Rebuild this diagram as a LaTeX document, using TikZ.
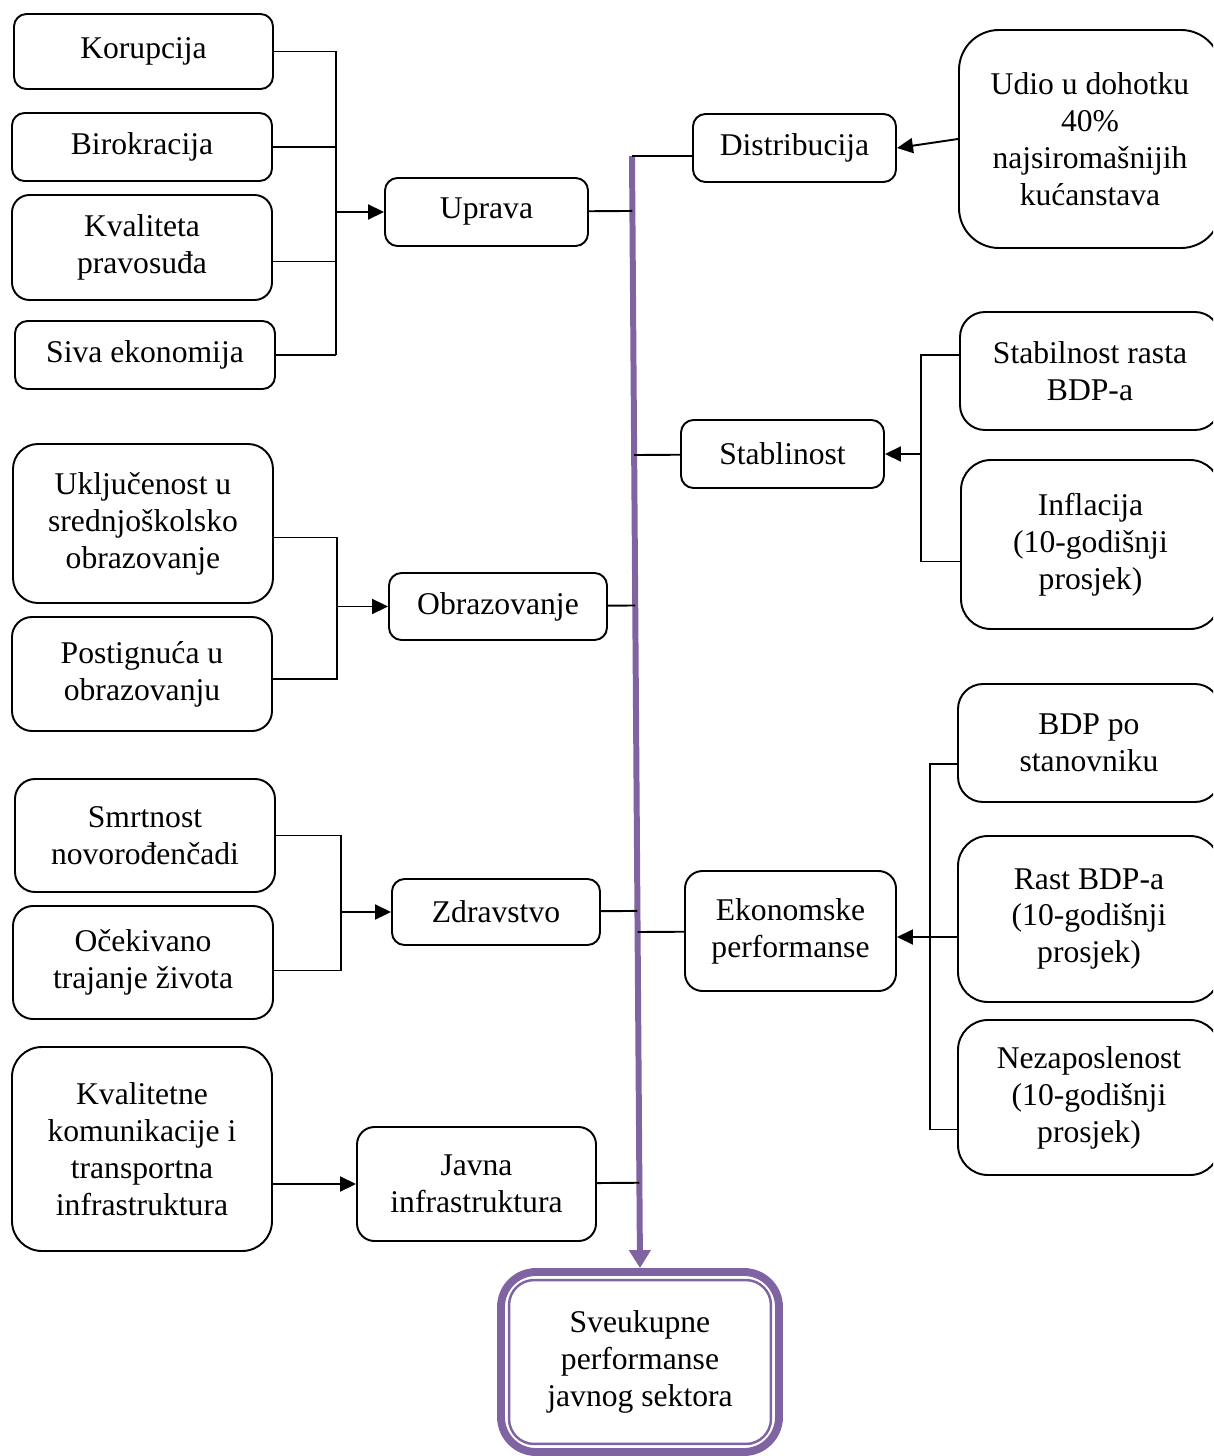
\documentclass[tikz,border=0pt]{standalone}
\usepackage{fontspec}
\setmainfont{Liberation Serif}
\usetikzlibrary{arrows.meta,calc}
\definecolor{ljub}{HTML}{8064A2}

\tikzset{
  box/.style={draw, line width=1.1pt, rounded corners=0.25cm, align=center, inner sep=2pt,
    font=\fontsize{18}{21}\selectfont},
  wh/.style 2 args={minimum width=#1*0.02cm, minimum height=#2*0.02cm},
  veza/.style={line width=1.1pt},
  strel/.style={line width=1.1pt, -{Triangle[length=0.32cm, width=0.3cm]}},
  osovina/.style={ljub, line width=3.4pt, -{Triangle[length=0.36cm, width=0.42cm]}}
}

\begin{document}
\begin{tikzpicture}[x=0.02cm, y=-0.02cm]
	\useasboundingbox (0,0) rectangle (1213,1456);
	\clip (0,0) rectangle (1213,1456);
	% lijevi stupac
	\node[box, wh={259}{75}] (kor) at (143.5,51.5) {Korupcija};
	\node[box, wh={260}{68}] (bir) at (142,147) {Birokracija};
	\node[box, wh={260}{105}, rounded corners=0.35cm] (pra) at (142,247.5) {Kvaliteta\\pravosuđa};
	\node[box, wh={260}{68}] (siv) at (145,355) {Siva ekonomija};
	\node[box, wh={260}{159}, rounded corners=0.5cm] (ukl) at (143,523.5) {Uključenost u\\srednjoškolsko\\obrazovanje};
	\node[box, wh={260}{114}, rounded corners=0.4cm] (pos) at (142,674) {Postignuća u\\obrazovanju};
	\node[box, wh={260}{113}, rounded corners=0.4cm] (smr) at (145,835.5) {Smrtnost\\novorođenčadi};
	\node[box, wh={260}{113}, rounded corners=0.4cm] (oce) at (143,962.5) {Očekivano\\trajanje života};
	\node[box, wh={260}{204}, rounded corners=0.6cm] (kom) at (142,1149) {Kvalitetne\\komunikacije i\\transportna\\infrastruktura};
	% srednji stupac
	\node[box, wh={203}{68}] (upr) at (486.5,212) {Uprava};
	\node[box, wh={218}{67}] (obr) at (498,606.5) {Obrazovanje};
	\node[box, wh={208}{66}] (zdr) at (496,912) {Zdravstvo};
	\node[box, wh={239}{114}, rounded corners=0.35cm] (jav) at (476.5,1184) {Javna\\infrastruktura};
	\node[box, wh={203}{68}] (dis) at (794.5,148) {Distribucija};
	\node[box, wh={203}{68}] (sta) at (782.5,454) {Stablinost};
	\node[box, wh={211}{120}, rounded corners=0.35cm] (eko) at (790.5,931) {Ekonomske\\performanse};
	% desni stupac
	\node[box, wh={262}{218}, rounded corners=0.8cm] (udi) at (1090,139) {Udio u dohotku\\40\%\\najsiromašnijih\\kućanstava};
	\node[box, wh={260}{118}, rounded corners=0.5cm] (stb) at (1090,371) {Stabilnost rasta\\BDP-a};
	\node[box, wh={259}{169}, rounded corners=0.6cm] (inf) at (1090.5,544.5) {Inflacija\\(10-godišnji\\prosjek)};
	\node[box, wh={262}{118}, rounded corners=0.5cm] (bpo) at (1089,743) {BDP po\\stanovniku};
	\node[box, wh={262}{166}, rounded corners=0.6cm] (ras) at (1089,919) {Rast BDP-a\\(10-godišnji\\prosjek)};
	\node[box, wh={262}{155}, rounded corners=0.6cm] (nez) at (1089,1097.5) {Nezaposlenost\\(10-godišnji\\prosjek)};
	% rezultat
	\node[box, wh={278}{180}, draw=ljub, line width=4.5pt, rounded corners=0.7cm] (sve) at (640,1362) {Sveukupne\\performanse\\javnog sektora};
	\draw[ljub, line width=1.4pt, rounded corners=0.5cm] ([shift={(12,12)}]sve.north west) rectangle ([shift={(-12,-12)}]sve.south east);

	% okomita os
	\coordinate (vrh) at (632,156);
	\draw[osovina] (vrh) -- (sve.north);
	\draw[veza] (vrh) -- (vrh -| dis.west);
	\foreach \n in {upr,obr,zdr,jav,sta,eko}
		\draw[veza] (\n) -- ($(vrh)!(\n)!(sve.north)$);

	% uprava
	\coordinate (ub) at (336,0);
	\coordinate (u3) at ($(pra.east)+(0,14)$);
	\foreach \c in {kor.east,bir.east,u3,siv.east}
		\draw[veza] (\c) -- (\c -| ub);
	\draw[veza] (kor.east -| ub) -- (siv.east -| ub);
	\draw[strel] (upr.west -| ub) -- (upr.west);

	% obrazovanje
	\coordinate (ob) at (337,0);
	\coordinate (o1) at ($(ukl.east)+(0,14)$);
	\coordinate (o2) at ($(pos.east)+(0,5)$);
	\draw[veza] (o1) -- (o1 -| ob) -- (o2 -| ob) -- (o2);
	\draw[strel] (obr.west -| ob) -- (obr.west);

	% zdravstvo
	\coordinate (zb) at (341,0);
	\coordinate (z2) at ($(oce.east)+(0,8)$);
	\draw[veza] (smr.east) -- (smr.east -| zb) -- (z2 -| zb) -- (z2);
	\draw[strel] (zdr.west -| zb) -- (zdr.west);

	% infrastruktura
	\draw[strel] (kom.east |- jav.west) -- (jav.west);

	% distribucija
	\draw[strel] (udi.west) -- (dis.east);

	% stabilnost
	\coordinate (sb) at (921,0);
	\coordinate (s1) at ($(stb.west)+(0,-16)$);
	\coordinate (s2) at ($(inf.west)+(0,17)$);
	\draw[veza] (s1) -- (s1 -| sb) -- (s2 -| sb) -- (s2);
	\draw[strel] (sta.east -| sb) -- (sta.east);

	% ekonomske performanse
	\coordinate (eb) at (930,0);
	\coordinate (e1) at ($(bpo.west)+(0,21)$);
	\coordinate (e2) at ($(ras.west)+(0,18)$);
	\coordinate (e3) at ($(nez.west)+(0,32)$);
	\draw[veza] (e1) -- (e1 -| eb) -- (e3 -| eb) -- (e3);
	\draw[strel] (e2) -- (eko.east |- e2);
\end{tikzpicture}
\end{document}
